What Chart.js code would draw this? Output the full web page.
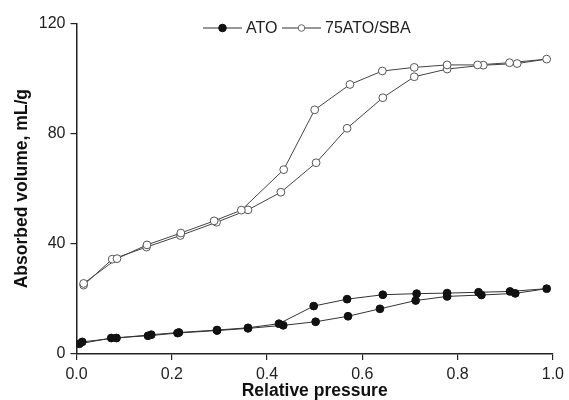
<!DOCTYPE html>
<html>
<head>
<meta charset="utf-8">
<script src="https://cdn.jsdelivr.net/npm/chart.js@4"></script>
<style>
html,body{margin:0;padding:0;background:#fff;}
#wrap{width:569px;height:400px;position:relative;}
</style>
</head>
<body>
<div id="wrap"><canvas id="c" width="569" height="400"></canvas></div>
<script>
// ---- data ----
const seriesNames = ['ATO', '75ATO/SBA'];
const xTickValues = [0, 0.2, 0.4, 0.6, 0.8, 1.0];
const xTickLabels = ['0.0', '0.2', '0.4', '0.6', '0.8', '1.0'];
const yTickValues = [0, 40, 80, 120];
const yTickLabels = ['0', '40', '80', '120'];

// ATO: adsorption branch then desorption branch
const atoX = [0.006,0.073,0.150,0.212,0.295,0.360,0.434,0.502,0.570,0.637,0.712,0.778,0.850,0.921,0.987,
              0.910,0.844,0.778,0.714,0.643,0.568,0.498,0.425,0.360,0.295,0.215,0.157,0.084,0.012];
const atoY = [3.7,5.8,6.6,7.6,8.5,9.3,10.4,11.7,13.7,16.4,19.4,20.9,21.4,22.0,23.7,
              22.7,22.4,22.1,21.9,21.5,19.9,17.4,11.0,9.5,8.7,7.8,7.0,5.8,4.4];

// 75ATO/SBA: adsorption branch then desorption branch
const sbaX = [0.015,0.075,0.147,0.218,0.294,0.360,0.429,0.503,0.568,0.643,0.709,0.778,0.854,0.925,0.987,
              0.909,0.842,0.778,0.709,0.642,0.574,0.500,0.435,0.346,0.289,0.219,0.148,0.085,0.015];
const sbaY = [25.0,34.4,38.8,43.0,47.8,52.3,58.7,69.4,81.9,93.0,100.6,103.4,104.8,105.4,107.0,
              105.7,104.9,104.9,104.0,102.7,97.8,88.6,66.9,52.2,48.3,43.9,39.6,34.6,25.6];

const toPts = (xs, ys) => xs.map((x, i) => ({x: x, y: ys[i]}));
const FONT = 'Arial, "Liberation Sans", sans-serif';

const legendPlugin = {
  id: 'lineLegend',
  afterDraw(chart) {
    const ctx = chart.ctx;
    const y = 28;
    const items = [
      {x0: 203, fill: '#111', stroke: '#111', r: 3.8, label: seriesNames[0]},
      {x0: 282, fill: '#fff', stroke: '#666', r: 3.3, label: seriesNames[1]}
    ];
    ctx.save();
    ctx.font = '16px ' + FONT;
    ctx.textBaseline = 'middle';
    items.forEach(it => {
      ctx.strokeStyle = '#333';
      ctx.lineWidth = 1;
      ctx.beginPath();
      ctx.moveTo(it.x0, y);
      ctx.lineTo(it.x0 + 39, y);
      ctx.stroke();
      ctx.beginPath();
      ctx.arc(it.x0 + 19.5, y, it.r, 0, Math.PI * 2);
      ctx.fillStyle = it.fill;
      ctx.fill();
      ctx.strokeStyle = it.stroke;
      ctx.stroke();
      ctx.fillStyle = '#222';
      ctx.fillText(it.label, it.x0 + 43, y + 1);
    });
    ctx.restore();
  }
};

new Chart(document.getElementById('c'), {
  type: 'scatter',
  data: {
    datasets: [
      {
        label: seriesNames[0],
        data: toPts(atoX, atoY),
        showLine: true,
        borderColor: '#333',
        borderWidth: 1,
        pointRadius: 3.9,
        pointBackgroundColor: '#111',
        pointBorderColor: '#111',
        pointBorderWidth: 1,
        tension: 0
      },
      {
        label: seriesNames[1],
        data: toPts(sbaX, sbaY),
        showLine: true,
        borderColor: '#444',
        borderWidth: 1,
        pointRadius: 3.9,
        pointBackgroundColor: '#fff',
        pointBorderColor: '#555',
        pointBorderWidth: 1,
        tension: 0
      }
    ]
  },
  options: {
    responsive: false,
    animation: false,
    layout: {padding: {top: 23.3, right: 12.3, bottom: 0, left: 0}},
    plugins: {legend: {display: false}, tooltip: {enabled: false}},
    scales: {
      x: {
        type: 'linear', min: 0, max: 1,
        afterBuildTicks: s => { s.ticks = xTickValues.map(v => ({value: v})); },
        afterFit: s => { s.height = 46; },
        ticks: {
          callback: (v) => { const i = xTickValues.indexOf(v); return i >= 0 ? xTickLabels[i] : ''; },
          font: {family: FONT, size: 16}, color: '#222', padding: 5, maxRotation: 0
        },
        grid: {display: true, drawOnChartArea: false, drawTicks: true, tickLength: 6, color: '#222', lineWidth: 1.2},
        border: {display: true, color: '#222', width: 1.5},
        title: {display: true, text: 'Relative pressure', font: {family: FONT, size: 17.5, weight: 'bold', lineHeight: 1}, color: '#111', padding: {top: 0, bottom: 0}}
      },
      y: {
        type: 'linear', min: 0, max: 120,
        afterBuildTicks: s => { s.ticks = yTickValues.map(v => ({value: v})); },
        afterFit: s => { s.width = 76.5; },
        ticks: {
          callback: (v) => { const i = yTickValues.indexOf(v); return i >= 0 ? yTickLabels[i] : ''; },
          font: {family: FONT, size: 16}, color: '#222', padding: 5
        },
        grid: {display: true, drawOnChartArea: false, drawTicks: true, tickLength: 6, color: '#222', lineWidth: 1.2},
        border: {display: true, color: '#222', width: 1.5},
        title: {display: true, text: 'Absorbed volume, mL/g', font: {family: FONT, size: 17.5, weight: 'bold', lineHeight: 1}, color: '#111', padding: {top: 13, bottom: 0}}
      }
    }
  },
  plugins: [legendPlugin]
});
</script>
</body>
</html>
